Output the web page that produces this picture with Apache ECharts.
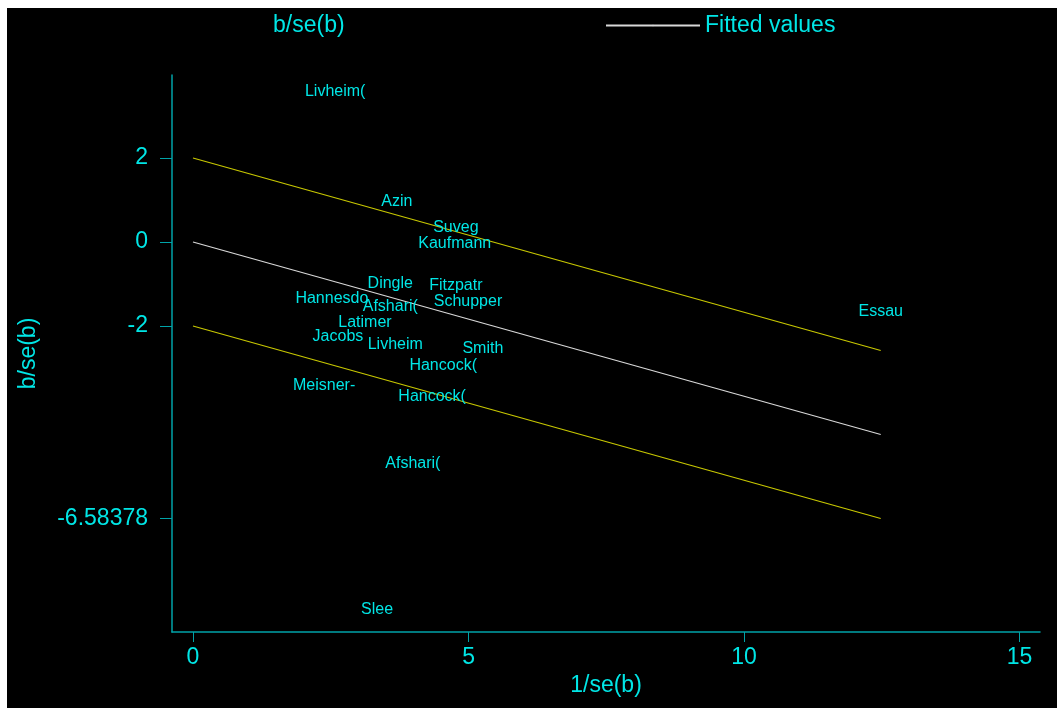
<!DOCTYPE html>
<html><head><meta charset="utf-8">
<script src="https://cdn.jsdelivr.net/npm/echarts@6/dist/echarts.min.js"></script>
<style>
html,body{margin:0;padding:0;background:#fff;}
#c{position:absolute;left:7px;top:8px;width:1050px;height:700px;background:#000;}
</style></head><body><div id="c"></div>
<script>
const studyNames = ['Livheim(','Azin','Suveg','Kaufmann','Dingle','Fitzpatr','Hannesdo','Afshari(','Schupper','Latimer','Jacobs','Livheim','Smith','Hancock(','Meisner-','Hancock(','Afshari(','Essau','Slee'];
const precision = [2.58,3.70,4.77,4.75,3.58,4.77,2.52,3.58,4.99,3.12,2.63,3.67,5.26,4.54,2.38,4.34,3.99,12.48,3.34];
const zScores  = [3.64,1.02,0.40,0.02,-0.95,-0.98,-1.29,-1.48,-1.38,-1.88,-2.21,-2.40,-2.48,-2.90,-3.38,-3.64,-5.24,-1.62,-8.71];
const fitX = [0, 12.48];
const fitY = [0, -4.58378];
const upperY = [2, -2.58378];
const lowerY = [-2, -6.58378];
const xTicks = [0, 5, 10, 15];
const yTicks = [2, 0, -2, -6.58378];

const cyan = '#00e6e6';
const axisCol = '#00a3a8';
const font = 'Liberation Sans, Arial, sans-serif';

const chart = echarts.init(document.getElementById('c'));
chart.setOption({
  backgroundColor: '#000',
  animation: false,
  textStyle: {fontFamily: font},
  grid: {left: 165, right: 17, top: 67, bottom: 76},
  legend: [
    {data: [{name: 'b/se(b)', icon: 'none'}], left: 256, top: 1, itemWidth: 0, itemGap: 0,
     textStyle: {color: cyan, fontSize: 23, fontFamily: font}, selectedMode: false},
    {data: ['Fitted values'], left: 593, top: 1, itemWidth: 94, itemHeight: 2,
     textStyle: {color: cyan, fontSize: 23, fontFamily: font}, selectedMode: false}
  ],
  xAxis: {
    type: 'value', min: -0.381, max: 15.37,
    name: '1/se(b)', nameLocation: 'middle', nameGap: 39,
    nameTextStyle: {color: cyan, fontSize: 23, fontFamily: font},
    axisLine: {show: true, onZero: false, lineStyle: {color: axisCol, width: 1.5}},
    axisTick: {show: true, length: 10, customValues: xTicks, lineStyle: {color: axisCol}},
    axisLabel: {customValues: xTicks, color: cyan, fontSize: 23, margin: 14, fontFamily: font},
    splitLine: {show: false}
  },
  yAxis: {
    type: 'value', min: -9.286, max: 3.976,
    name: 'b/se(b)', nameLocation: 'middle', nameGap: 132, nameRotate: 90,
    nameTextStyle: {color: cyan, fontSize: 23, fontFamily: font},
    axisLine: {show: true, onZero: false, lineStyle: {color: axisCol, width: 1.5}},
    axisTick: {show: true, length: 12, customValues: yTicks, lineStyle: {color: axisCol}},
    axisLabel: {customValues: yTicks, color: cyan, fontSize: 23, margin: 24, fontFamily: font,
      formatter: v => String(v)},
    splitLine: {show: false}
  },
  series: [
    {
      name: 'b/se(b)', type: 'scatter', symbol: 'circle', symbolSize: 0.01,
      itemStyle: {color: cyan, opacity: 1},
      data: studyNames.map((n, i) => ({name: n, value: [precision[i], zScores[i]]})),
      label: {show: true, position: 'inside', formatter: '{b}', color: cyan, fontSize: 16,
        fontFamily: font, textBorderWidth: 0, textShadowBlur: 0, opacity: 1, offset: [0, 2]},
      silent: true, z: 5
    },
    {
      name: 'Fitted values', type: 'line', symbol: 'none', showSymbol: false,
      lineStyle: {color: '#d8d8d8', width: 1.2}, itemStyle: {color: '#d8d8d8'},
      data: fitX.map((x, i) => [x, fitY[i]])
    },
    {
      name: 'upper', type: 'line', symbol: 'none', showSymbol: false,
      lineStyle: {color: '#c8c800', width: 1.2},
      data: fitX.map((x, i) => [x, upperY[i]])
    },
    {
      name: 'lower', type: 'line', symbol: 'none', showSymbol: false,
      lineStyle: {color: '#c8c800', width: 1.2},
      data: fitX.map((x, i) => [x, lowerY[i]])
    }
  ]
});
</script></body></html>
